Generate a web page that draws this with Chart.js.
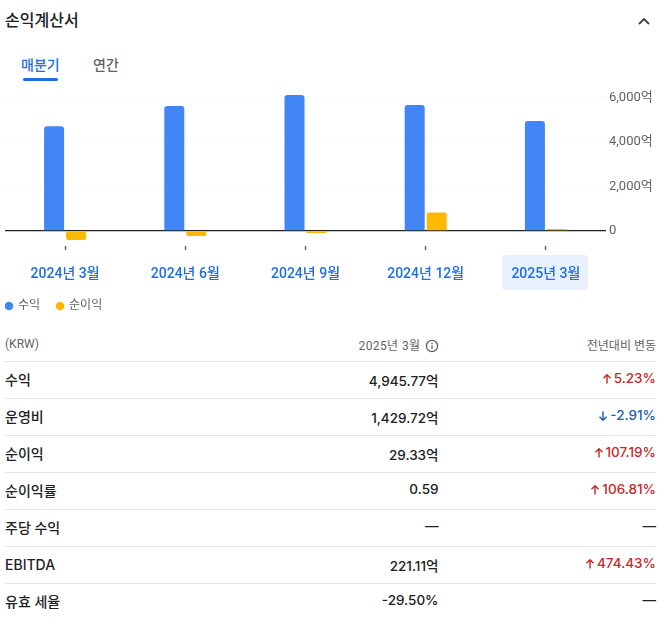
<!DOCTYPE html>
<html lang="ko"><head><meta charset="utf-8">
<script src="https://cdn.jsdelivr.net/npm/chart.js@4"></script>
<style>
html,body{margin:0;padding:0;background:#fff;width:664px;height:631px;overflow:hidden;font-family:Roboto,"Noto Sans CJK KR",sans-serif;color:#202124}
.abs{position:absolute;white-space:nowrap}
#title{left:5px;top:10px;font-size:16px;line-height:22px;font-weight:500;color:#202124}
#tab1{left:21px;top:55px;font-size:14px;line-height:20px;font-weight:500;color:#1f6fe0}
#tab2{left:93px;top:55px;font-size:14px;line-height:20px;font-weight:500;color:#5f6368}
#ul{left:23px;top:78px;width:35px;height:3px;border-radius:2px;background:#1f6fe0}
#chev{left:636px;top:13px}
canvas{position:absolute;left:0;top:0}
#tbl{position:absolute;left:5px;top:326px;width:651px;border-collapse:collapse;table-layout:fixed}
#tbl td,#tbl th{padding:0;height:36px;border-bottom:1px solid #e3e4e6;font-family:Inter,"Noto Sans CJK KR",sans-serif;font-size:13.5px;font-weight:500;white-space:nowrap;text-align:right}
#tbl tr:last-child td{border-bottom:none}
#tbl th{height:35px;font-family:Roboto,"Noto Sans CJK KR",sans-serif;font-size:12px;font-weight:400;color:#5f6368}
#tbl td:first-child,#tbl th:first-child{text-align:left}
#tbl td:first-child span{position:relative;top:-1px;font-size:14px}
.c1{width:433.5px}
.up{color:#c5292a}.down{color:#1b5fae}
svg.ar{vertical-align:-2px;margin-right:1px}
svg.inf{vertical-align:-3px;margin-left:4px}
</style></head><body>
<div class="abs" id="title">손익계산서</div>
<div class="abs" id="tab1">매분기</div>
<div class="abs" id="tab2">연간</div>
<div class="abs" id="ul"></div>
<svg class="abs" id="chev" width="16" height="16" viewBox="0 0 16 16"><path d="M3 11 8 6 13 11" fill="none" stroke="#3c4043" stroke-width="1.8"/></svg>
<canvas id="c" width="664" height="322" style="width:664px;height:322px"></canvas>
<table id="tbl"><colgroup><col class="c1"><col style="width:1px"><col></colgroup><tbody id="tb"></tbody></table>
<script>
const categories=["2024년 3월","2024년 6월","2024년 9월","2024년 12월","2025년 3월"];
const revenue=[4700,5611,6109,5656,4945.77];
const netIncome=[-408,-230,-40,830,29.33];
const yTicks=[0,2000,4000,6000];
const seriesNames=["수익","순이익"];
const rowLabels=["수익","운영비","순이익","순이익률","주당 수익","EBITDA","유효 세율"];
const rowValues=["4,945.77억","1,429.72억","29.33억","0.59","—","221.11억","-29.50%"];
const rowChanges=["5.23%","-2.91%","107.19%","106.81%","—","474.43%","—"];
const headers=["(KRW)","2025년 3월","전년대비 변동"];

const tb=document.getElementById('tb');
const arrow=(d)=>`<svg class="ar" width="12" height="12" viewBox="0 0 12 12"><path d="${d?'M6 1.5V10M2.5 6.8 6 10.3 9.5 6.8':'M6 10.5V2M2.5 5.2 6 1.7 9.5 5.2'}" fill="none" stroke="currentColor" stroke-width="1.4"/></svg>`;
const info=`<svg class="inf" width="14" height="14" viewBox="0 0 14 14"><circle cx="7" cy="7" r="5.6" fill="none" stroke="#5f6368" stroke-width="1.3"/><path d="M7 6.2v4M7 3.8v1.4" stroke="#5f6368" stroke-width="1.3"/></svg>`;
let h=`<tr><th>${headers[0]}</th><th colspan="2" style="position:relative"><span style="position:absolute;right:217.5px;top:10px;letter-spacing:.4px">${headers[1]}${info}</span><span style="position:absolute;right:0;top:10px">${headers[2]}</span></th></tr>`;
rowLabels.forEach((l,i)=>{
  const ch=rowChanges[i];
  const cls=ch==='—'?'':(ch[0]==='-'?'down':'up');
  const chHtml=ch==='—'?ch:arrow(ch[0]==='-')+ch;
  h+=`<tr><td><span>${l}</span></td><td colspan="2" style="position:relative"><span style="position:absolute;right:217.5px;top:8px">${rowValues[i]}</span><span class="${cls}" style="position:absolute;right:0;top:8px">${chHtml}</span></td></tr>`;
});
tb.innerHTML=h;

const font='Roboto,"Noto Sans CJK KR",sans-serif';
const legendPad=17;
const highlight={id:'highlight',
  afterLayout(ch){ch.legend.left=6-legendPad;},
  beforeDraw(ch){
    const x=ch.scales.x.getPixelForValue(4);const g=ch.ctx;
    g.save();g.fillStyle='#e8f0fc';g.beginPath();g.roundRect(x-44,255,86,35,4);g.fill();g.restore();
  }};
new Chart(document.getElementById('c'),{
  type:'bar',
  data:{labels:categories,datasets:[
    {label:seriesNames[0],data:revenue,backgroundColor:'#4285f4',borderRadius:3},
    {label:seriesNames[1],data:netIncome,backgroundColor:'#fbb900',borderRadius:2,minBarLength:2}
  ]},
  plugins:[highlight],
  options:{
    responsive:false,animation:false,
    layout:{padding:{left:5,top:93,right:0,bottom:0}},
    datasets:{bar:{categoryPercentage:0.366,barPercentage:0.909}},
    plugins:{tooltip:{enabled:false},
      legend:{position:'bottom',align:'start',
        labels:{usePointStyle:true,pointStyle:'circle',boxWidth:6,boxHeight:6,padding:legendPad,color:'#5f6368',font:{family:font,size:12}}}},
    scales:{
      x:{position:'bottom',
        grid:{display:true,offset:false,drawOnChartArea:false,drawTicks:true,tickLength:4,tickWidth:1.5,tickColor:'#5f6368'},
        border:{display:false},
        ticks:{color:'#1f6fe0',padding:16,maxRotation:0,autoSkip:false,font:{family:font,size:14,weight:'500'}},
        afterFit(s){s.height=37;}},
      y:{position:'right',min:-678,max:6200,
        afterBuildTicks(s){s.ticks=yTicks.map(v=>({value:v}));},
        afterFit(s){s.width=58;},
        grid:{drawTicks:false,
          color:c=>c.tick&&c.tick.value===0?'#202124':'#f6f7f8',
          lineWidth:c=>c.tick&&c.tick.value===0?1.3:1},
        border:{display:false},
        ticks:{color:'#5f6368',padding:3,font:{family:font,size:13},callback:v=>v===0?'0':v.toLocaleString('en-US')+'억'}}
    }
  }
});
</script></body></html>
